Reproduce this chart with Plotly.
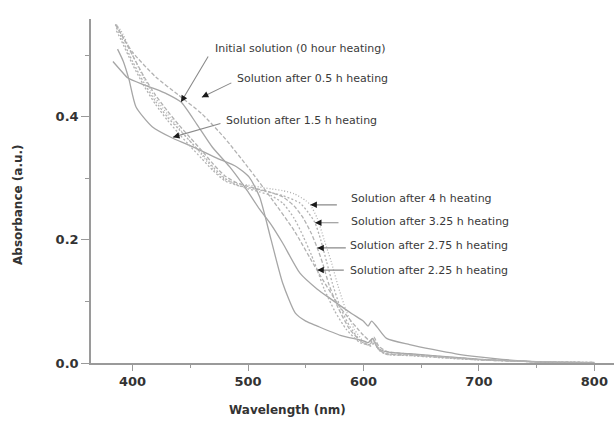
import math
import plotly.graph_objects as go

# ---- data ----
wl_0h = [383, 390, 396, 410, 420, 430, 442, 456, 469, 484, 499, 510, 520, 530, 545, 560, 571, 590, 600, 604, 607, 612, 620, 640, 660, 680, 700, 720, 740, 760, 800]
ab_0h = [0.49, 0.475, 0.463, 0.452, 0.445, 0.437, 0.424, 0.387, 0.351, 0.319, 0.281, 0.25, 0.225, 0.195, 0.146, 0.12, 0.105, 0.08, 0.068, 0.06, 0.068, 0.058, 0.04, 0.03, 0.022, 0.015, 0.01, 0.006, 0.003, 0.001, 0.0]

wl_05h = [386, 390, 400, 420, 440, 460, 480, 500, 520, 540, 560, 580, 600, 606, 609, 613, 620, 650, 700, 750, 800]
ab_05h = [0.55, 0.535, 0.505, 0.465, 0.435, 0.405, 0.365, 0.318, 0.268, 0.215, 0.15, 0.09, 0.045, 0.036, 0.042, 0.028, 0.019, 0.013, 0.006, 0.002, 0.0]

wl_15h = [387, 392, 397, 403, 417, 434, 449, 473, 490, 501, 510, 520, 530, 541, 550, 560, 580, 600, 604, 608, 612, 620, 640, 680, 700, 750, 800]
ab_15h = [0.51, 0.49, 0.46, 0.416, 0.384, 0.366, 0.354, 0.333, 0.319, 0.302, 0.27, 0.2, 0.13, 0.081, 0.068, 0.06, 0.045, 0.036, 0.033, 0.04, 0.025, 0.018, 0.015, 0.009, 0.006, 0.002, 0.0]

wl_225h = [386, 390, 400, 410, 420, 430, 440, 450, 460, 470, 480, 490, 500, 510, 520, 530, 540, 548, 555, 560, 566, 575, 585, 597, 605, 608, 612, 618, 640, 680, 700, 750, 800]
ab_225h = [0.545, 0.53, 0.49, 0.455, 0.425, 0.4, 0.38, 0.36, 0.34, 0.318, 0.3, 0.29, 0.283, 0.278, 0.272, 0.26, 0.235, 0.205, 0.175, 0.151, 0.12, 0.085, 0.055, 0.033, 0.03, 0.038, 0.025, 0.016, 0.014, 0.008, 0.006, 0.002, 0.001]

wl_275h = [385, 390, 400, 410, 420, 430, 440, 450, 460, 470, 480, 490, 500, 510, 520, 530, 540, 548, 555, 560, 565, 570, 578, 588, 598, 605, 609, 613, 620, 640, 680, 700, 750, 800]
ab_275h = [0.55, 0.535, 0.5, 0.465, 0.435, 0.41, 0.387, 0.366, 0.345, 0.323, 0.304, 0.293, 0.287, 0.282, 0.277, 0.27, 0.255, 0.235, 0.21, 0.187, 0.16, 0.128, 0.09, 0.055, 0.035, 0.03, 0.036, 0.022, 0.015, 0.013, 0.008, 0.005, 0.002, 0.001]

wl_325h = [386, 390, 400, 410, 420, 430, 440, 450, 460, 470, 480, 490, 500, 510, 520, 530, 545, 552, 558, 563, 568, 573, 580, 588, 598, 606, 610, 614, 620, 640, 680, 700, 750, 800]
ab_325h = [0.54, 0.525, 0.485, 0.45, 0.42, 0.395, 0.373, 0.352, 0.332, 0.312, 0.296, 0.289, 0.285, 0.281, 0.277, 0.272, 0.26, 0.245, 0.228, 0.2, 0.165, 0.13, 0.09, 0.06, 0.035, 0.028, 0.034, 0.02, 0.014, 0.012, 0.007, 0.005, 0.002, 0.001]

wl_4h = [385, 390, 400, 410, 420, 430, 440, 450, 460, 470, 480, 490, 500, 510, 520, 530, 540, 550, 554, 560, 566, 572, 578, 585, 592, 600, 606, 610, 615, 620, 640, 680, 700, 750, 800]
ab_4h = [0.55, 0.54, 0.5, 0.462, 0.43, 0.405, 0.382, 0.36, 0.338, 0.315, 0.298, 0.292, 0.289, 0.286, 0.283, 0.28, 0.275, 0.264, 0.257, 0.235, 0.2, 0.165, 0.125, 0.085, 0.055, 0.035, 0.027, 0.033, 0.02, 0.014, 0.012, 0.007, 0.005, 0.002, 0.001]

series_names = ["Initial solution (0 hour heating)", "Solution after 0.5 h heating",
                "Solution after 1.5 h heating", "Solution after 2.25 h heating",
                "Solution after 2.75 h heating", "Solution after 3.25 h heating",
                "Solution after 4 h heating"]

# arrow tip positions (data units) for each label
tip_wl = [442, 460, 435, 560, 560, 558, 554]
tip_ab = [0.424, 0.432, 0.367, 0.151, 0.187, 0.228, 0.257]

x_ticks = [400, 500, 600, 700, 800]
y_ticks = [0.0, 0.2, 0.4]

# ---- figure ----
series = [(wl_0h, ab_0h), (wl_05h, ab_05h), (wl_15h, ab_15h), (wl_225h, ab_225h),
          (wl_275h, ab_275h), (wl_325h, ab_325h), (wl_4h, ab_4h)]
styles = [("#a6a6a6", "solid"), ("#b2b2b2", "4px,2px"), ("#a6a6a6", "solid"),
          ("#b2b2b2", "2px,2px"), ("#b2b2b2", "4px,2px"), ("#b2b2b2", "2px,2px"),
          ("#b2b2b2", "1px,2px")]

FONT = "DejaVu Sans"

fig = go.Figure()
for (xs, ys), (c, d), n in zip(series, styles, series_names):
    fig.add_trace(go.Scatter(x=xs, y=ys, mode="lines", name=n,
                             line=dict(color=c, width=1.3, dash=d, shape="spline", smoothing=0.6),
                             showlegend=False, hoverinfo="skip"))

# arrow tails and text placement, pixel offsets relative to the tip
arrow_tail = [(28, -47), (31, -15), (49, -14), (28, 0), (30, 0), (25, 0), (28, 0)]
text_off = [(32, -54), (33, -19), (51, -17), (31, 0), (31, -2), (34, -1), (39, -6)]

for i, n in enumerate(series_names):
    ax_, ay_ = arrow_tail[i]
    # grey shaft
    fig.add_annotation(x=tip_wl[i], y=tip_ab[i], xref="x", yref="y", text="",
                       showarrow=True, ax=ax_, ay=ay_, axref="pixel", ayref="pixel",
                       arrowhead=0, arrowwidth=1.1, arrowcolor="#8a8a8a",
                       standoff=0, startstandoff=0)
    # black head
    L = math.hypot(ax_, ay_)
    fig.add_annotation(x=tip_wl[i], y=tip_ab[i], xref="x", yref="y", text="",
                       showarrow=True, ax=ax_ * 7 / L, ay=ay_ * 7 / L, axref="pixel", ayref="pixel",
                       arrowhead=2, arrowsize=1.0, arrowwidth=1.3, arrowcolor="#1a1a1a",
                       standoff=0, startstandoff=0)
    tx, ty = text_off[i]
    fig.add_annotation(x=tip_wl[i], y=tip_ab[i], xref="x", yref="y", text=n,
                       showarrow=True, arrowcolor="rgba(0,0,0,0)", ax=tx, ay=ty,
                       axref="pixel", ayref="pixel", xanchor="left", yanchor="middle",
                       font=dict(family=FONT, size=11, color="#3a3a3a"))

# axis titles placed as in the reference
fig.add_annotation(text="<b>Wavelength (nm)</b>", xref="paper", yref="paper",
                   x=(287 - 91) / 523, y=0, yshift=-47, showarrow=False,
                   xanchor="center", yanchor="middle",
                   font=dict(family=FONT, size=12, color="#333333"))
fig.add_annotation(text="<b>Absorbance (a.u.)</b>", xref="paper", yref="paper",
                   x=0, xshift=-73, y=(363 - 205) / 344, showarrow=False, textangle=-90,
                   xanchor="center", yanchor="middle",
                   font=dict(family=FONT, size=12, color="#333333"))

axis_common = dict(showline=True, linecolor="#9a9a9a", linewidth=1.5, showgrid=False,
                   zeroline=False, ticks="outside", tickcolor="#9a9a9a", tickwidth=1.2,
                   tickfont=dict(family=FONT, size=13, color="#333333"))

fig.update_layout(
    width=615, height=421,
    margin=dict(l=91, r=1, t=19, b=58),
    paper_bgcolor="white", plot_bgcolor="white",
    xaxis=dict(range=[364, 817], tickvals=x_ticks, ticktext=["<b>%d</b>" % v for v in x_ticks],
               ticklen=6,
               minor=dict(dtick=50, tick0=350, ticklen=3, ticks="outside", tickcolor="#9a9a9a"),
               **axis_common),
    yaxis=dict(range=[0, 0.559], tickvals=y_ticks, ticktext=["<b>%.1f</b>" % v for v in y_ticks],
               ticklen=8,
               minor=dict(dtick=0.1, tick0=0, ticklen=4, ticks="outside", tickcolor="#9a9a9a"),
               **axis_common),
)

fig.write_html("out.html", config={"displayModeBar": False},
               post_script="document.body.style.margin='0';document.body.style.overflow='hidden';")
